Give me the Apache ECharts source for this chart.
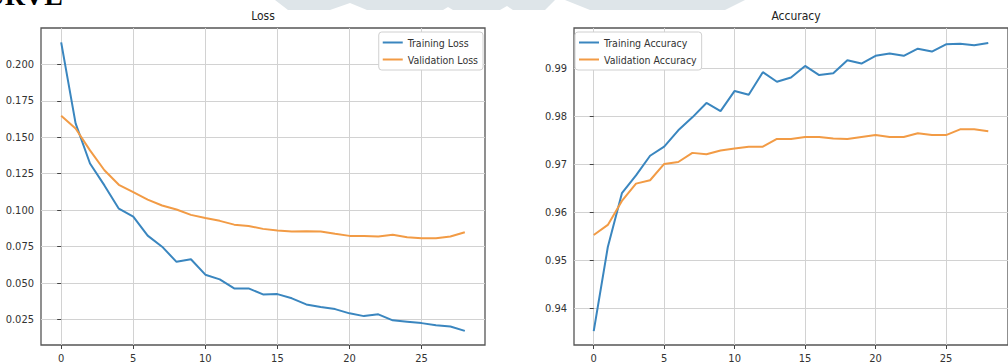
<!DOCTYPE html>
<html>
<head>
<meta charset="utf-8">
<script src="https://cdn.jsdelivr.net/npm/echarts@6/dist/echarts.min.js"></script>
<style>
html,body{margin:0;padding:0;background:#fff;overflow:hidden;}
#c{width:1008px;height:364px;}
</style>
</head>
<body>
<div id="c"></div>
<script>
const epochs = [0,1,2,3,4,5,6,7,8,9,10,11,12,13,14,15,16,17,18,19,20,21,22,23,24,25,26,27,28];
const trainLoss = [0.215,0.1595,0.132,0.117,0.101,0.0956,0.0826,0.075,0.0646,0.0664,0.0558,0.0526,0.0464,0.0464,0.0423,0.0425,0.0396,0.0354,0.0336,0.0322,0.0293,0.0274,0.0286,0.0245,0.0236,0.0226,0.0212,0.0203,0.0173];
const valLoss = [0.1648,0.156,0.141,0.1274,0.1174,0.1124,0.1073,0.1032,0.1005,0.0968,0.0947,0.0927,0.0901,0.0892,0.0872,0.0861,0.0854,0.0856,0.0854,0.0838,0.0824,0.0824,0.082,0.0831,0.0815,0.0808,0.0808,0.082,0.0849];
const trainAcc = [0.9353,0.9528,0.964,0.9677,0.9718,0.9737,0.9771,0.9798,0.9828,0.9811,0.9853,0.9845,0.9892,0.9872,0.9881,0.9905,0.9886,0.989,0.9917,0.991,0.9926,0.9931,0.9926,0.9941,0.9935,0.995,0.9951,0.9948,0.9953];
const valAcc = [0.9553,0.9574,0.9624,0.966,0.9667,0.9701,0.9705,0.9724,0.9721,0.9729,0.9733,0.9737,0.9737,0.9753,0.9753,0.9757,0.9757,0.9754,0.9753,0.9757,0.9761,0.9757,0.9757,0.9765,0.9761,0.9761,0.9773,0.9773,0.9769];
const xTicks = [0,5,10,15,20,25];
const lossTicks = [0.025,0.050,0.075,0.100,0.125,0.150,0.175,0.200];
const accTicks = [0.94,0.95,0.96,0.97,0.98,0.99];
const titles = ['Loss','Accuracy'];
const heading = 'CURVE';
const names = ['Training Loss','Validation Loss','Training Accuracy','Validation Accuracy'];

const FONT = "'DejaVu Sans Condensed','DejaVu Sans',sans-serif";
const BLUE = '#3a86bf', ORANGE = '#f29b45';
const pairs = (xs, ys) => xs.map((x, i) => [x, ys[i]]);

function xAxis(gi) {
  return {
    type: 'value', gridIndex: gi, min: -1.4, max: 29.4,
    axisLine: {show: false},
    axisTick: {show: true, length: 4, lineStyle: {color: '#444'}, customValues: xTicks},
    axisLabel: {customValues: xTicks, fontFamily: FONT, fontSize: 11, color: '#333', margin: 8},
    splitLine: {show: true, lineStyle: {color: '#d2d2d2', width: 1}}
  };
}
function yAxis(gi, min, max, ticks, fmt) {
  return {
    type: 'value', gridIndex: gi, min: min, max: max,
    axisLine: {show: false},
    axisTick: {show: true, length: 4, lineStyle: {color: '#444'}, customValues: ticks},
    axisLabel: {customValues: ticks, fontFamily: FONT, fontSize: 11, color: '#333', margin: 7, formatter: fmt},
    splitLine: {show: true, lineStyle: {color: '#d2d2d2', width: 1}}
  };
}
function line(name, xi, data, color) {
  return {
    name: name, type: 'line', xAxisIndex: xi, yAxisIndex: xi,
    data: data, showSymbol: false, symbol: 'none',
    lineStyle: {color: color, width: 2}, itemStyle: {color: color},
    animation: false, z: 3
  };
}
function legend(pos, data) {
  return Object.assign({
    orient: 'vertical', top: 32, data: data,
    icon: 'rect', itemWidth: 20, itemHeight: 2, itemGap: 6,
    padding: [5, 5, 5, 4], backgroundColor: '#fff',
    borderColor: '#d0d0d0', borderWidth: 1, borderRadius: 3,
    textStyle: {fontFamily: FONT, fontSize: 10.5, color: '#333'},
    selectedMode: false
  }, pos);
}

const chart = echarts.init(document.getElementById('c'), null, {renderer: 'svg'});
chart.setOption({
  backgroundColor: '#fff',
  animation: false,
  grid: [
    {left: 41, top: 28, width: 444, height: 318, show: true, borderColor: '#555', borderWidth: 1.3, containLabel: false},
    {left: 574, top: 28, width: 445, height: 318, show: true, borderColor: '#555', borderWidth: 1.3, containLabel: false}
  ],
  xAxis: [xAxis(0), xAxis(1)],
  yAxis: [
    yAxis(0, 0.0076, 0.2249, lossTicks, v => v.toFixed(3)),
    yAxis(1, 0.9324, 0.9984, accTicks, v => v.toFixed(2))
  ],
  legend: [
    legend({right: 525}, [names[0], names[1]]),
    legend({left: 575}, [names[2], names[3]])
  ],
  graphic: [
    {type: 'polygon', silent: true, z: -10, shape: {points: [[275,0],[555,0],[545,10],[513,10],[507,6],[500,10],[453,10],[448,7],[443,10],[367,10],[350,3],[330,10],[288,10]]}, style: {fill: '#dee5e9'}},
    {type: 'polygon', silent: true, z: -10, shape: {points: [[565,0],[745,0],[725,10],[590,10]]}, style: {fill: '#dee5e9'}},
    {type: 'text', x: 63, y: 9, silent: true, style: {text: heading, font: "bold 28px 'Liberation Serif', serif", fill: '#000', textAlign: 'right', textVerticalAlign: 'bottom'}},
    {type: 'text', x: 263, y: 16, silent: true, style: {text: titles[0], font: "12px " + FONT, fill: '#222', textAlign: 'center', textVerticalAlign: 'middle'}},
    {type: 'text', x: 796, y: 16, silent: true, style: {text: titles[1], font: "12px " + FONT, fill: '#222', textAlign: 'center', textVerticalAlign: 'middle'}}
  ],
  series: [
    line(names[0], 0, pairs(epochs, trainLoss), BLUE),
    line(names[1], 0, pairs(epochs, valLoss), ORANGE),
    line(names[2], 1, pairs(epochs, trainAcc), BLUE),
    line(names[3], 1, pairs(epochs, valAcc), ORANGE)
  ]
});
</script>
</body>
</html>
